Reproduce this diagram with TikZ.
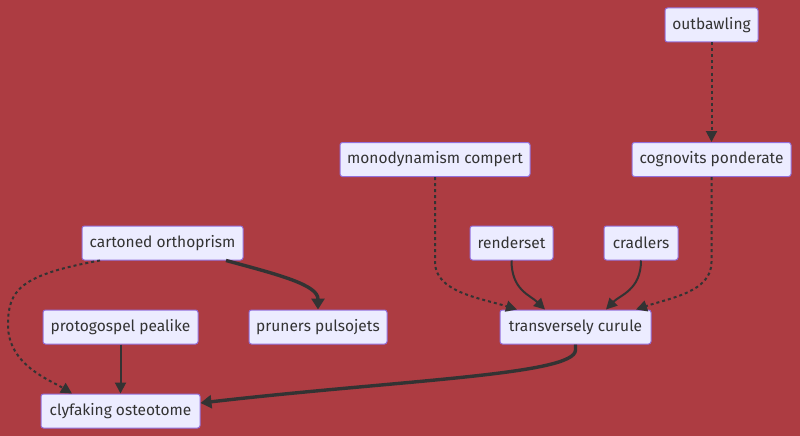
\documentclass[tikz,border=0pt]{standalone}
\usepackage{fontspec}
\setmainfont{Fira Sans}
\usepackage{tikz}
\usetikzlibrary{arrows.meta}
\definecolor{bgred}{HTML}{AD3C42}
\definecolor{boxfill}{HTML}{ECECFF}
\definecolor{boxline}{HTML}{9370DB}
\definecolor{ink}{HTML}{333333}

\begin{document}
\begin{tikzpicture}[
   x=1pt,y=-1pt,
   font=\fontsize{15.5}{17}\selectfont,
   box/.style={draw=boxline,fill=boxfill,text=ink,rounded corners=2.5pt,line width=1pt,
     minimum height=34pt,inner sep=0pt},
   flow/.style={-{Triangle[length=11pt,width=11pt]},draw=ink,line width=2pt},
   heavy/.style={flow,line width=3.4pt,-{Triangle[length=11pt,width=13pt]}},
   dots/.style={flow,dash pattern=on 3pt off 3pt}]
\fill[bgred] (0,0) rectangle (800,436);
\useasboundingbox (0,0) rectangle (800,436);
\node[box,minimum width=93pt] (outb) at (711.5,25) {outbawling};
\node[box,minimum width=159pt] (cogn) at (711.5,159.5) {cognovits ponderate};
\node[box,minimum width=190pt] (mono) at (435,159.5) {monodynamism compert};
\node[box,minimum width=83pt] (rend) at (511.5,243) {renderset};
\node[box,minimum width=74pt] (crad) at (641,243) {cradlers};
\node[box,minimum width=151pt] (tran) at (575.5,327) {transversely curule};
\node[box,minimum width=161pt] (cart) at (162.5,243) {cartoned orthoprism};
\node[box,minimum width=155pt] (prot) at (120.5,327) {protogospel pealike};
\node[box,minimum width=138pt] (prun) at (318,327) {pruners pulsojets};
\node[box,minimum width=159pt] (clyf) at (120.5,411) {clyfaking osteotome};
\draw[dots] (outb) -- (cogn);
\draw[dots] (mono.south) -- (435,262) .. controls (435,292) and (480,298) .. (tran.north west -| 517,0);
\draw[flow] (rend.south) .. controls (511.5,290) and (530,295) .. (tran.north west -| 545,0);
\draw[flow] (crad.south) .. controls (641,290) and (620,295) .. (tran.north west -| 606,0);
\draw[dots] (cogn.south) -- (711.5,262) .. controls (711.5,292) and (670,298) .. (tran.north west -| 636,0);
\draw[heavy] (cart.south east -| 226,0) .. controls (280,275) and (318,285) .. (prun.north);
\draw[dots] (cart.south west -| 100,0) .. controls (20,275) and (8,290) .. (8,325)
   .. controls (8,365) and (50,380) .. (clyf.north west -| 72,0);
\draw[flow] (prot) -- (clyf);
\draw[heavy] (tran.south) -- (575.5,350) .. controls (575.5,375) and (400,380) .. (clyf.east |- 0,403);
\end{tikzpicture}
\end{document}
